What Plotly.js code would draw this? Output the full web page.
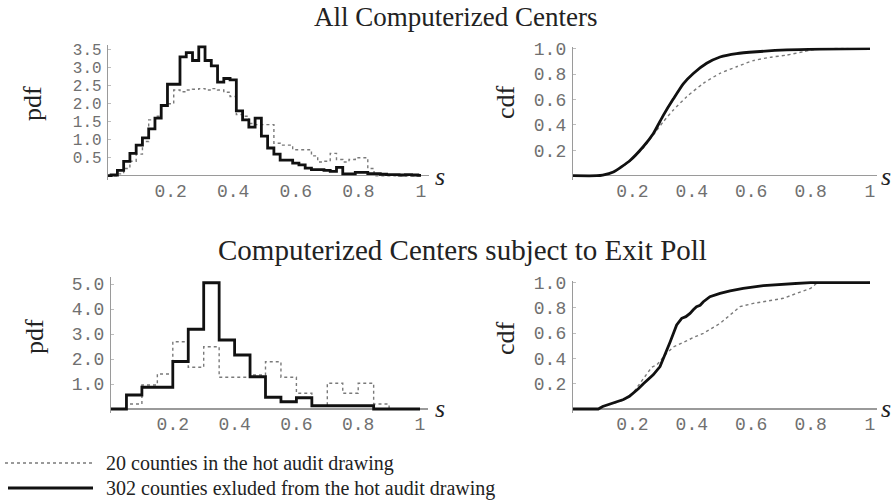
<!DOCTYPE html>
<html>
<head>
<meta charset="utf-8">
<script src="https://cdn.plot.ly/plotly-3.0.1.min.js"></script>
<style>
  html, body { margin: 0; padding: 0; background: #fff; }
  #chart { width: 891px; height: 502px; }
</style>
</head>
<body>
<div id="chart"></div>
<script>
// ---------------- DATA ----------------
// Top-left pdf histogram: first bin [0,0.01], then bins of width 0.02 centred on 0.02,0.04,...,1.00 (last clipped at 1.0)
const topBinWidth = 0.02;
const topPdfExcluded = [0,
  0.02, 0.15, 0.40, 0.62, 0.85, 1.05, 1.30, 1.60, 1.95, 2.54,
  2.54, 3.30, 3.42, 3.20, 3.58, 3.20, 3.05, 2.60, 2.70, 2.66,
  1.80, 1.55, 1.35, 1.60, 1.10, 0.77, 0.60, 0.43, 0.43, 0.35,
  0.30, 0.21, 0.17, 0.17, 0.15, 0.12, 0.23, 0.05, 0.05, 0.09,
  0.09, 0.06, 0.06, 0.04, 0.03, 0.03, 0.02, 0.03, 0.02, 0.01];
const topPdfHot = [0,
  0.00, 0.05, 0.20, 0.40, 0.60, 0.95, 1.55, 1.65, 1.95, 2.00,
  2.38, 2.33, 2.38, 2.40, 2.42, 2.38, 2.42, 2.38, 2.32, 2.20,
  1.70, 1.65, 1.45, 1.42, 1.42, 1.42, 0.90, 0.85, 0.85, 0.72,
  0.72, 0.72, 0.55, 0.38, 0.40, 0.62, 0.45, 0.38, 0.45, 0.50,
  0.50, 0.20, 0.00, 0.00, 0.00, 0.00, 0.00, 0.00, 0.00, 0.00];

// Bottom-left pdf histogram: bins of width 0.05 from 0 to 1
const botBinWidth = 0.05;
const botPdfExcluded = [0, 0.56, 0.87, 0.87, 1.90, 3.19, 5.05, 2.76, 2.16, 1.29,
                        0.47, 0.29, 0.45, 0.13, 0.13, 0.13, 0.13, 0, 0, 0];
const botPdfHot      = [0, 0.20, 0.96, 1.40, 2.69, 1.67, 2.49, 1.27, 1.27, 1.36,
                        1.89, 1.27, 0.63, 0.13, 1.03, 0.63, 1.03, 0.20, 0, 0];

// Top-right cdf
const topCdfExS = [0, 0.08, 0.10, 0.136, 0.192, 0.237, 0.27, 0.304, 0.338, 0.372, 0.405, 0.45, 0.495, 0.551, 0.618, 0.72, 0.83, 1.0];
const topCdfEx  = [0, 0, 0.005, 0.03, 0.12, 0.23, 0.33, 0.475, 0.605, 0.725, 0.805, 0.885, 0.935, 0.962, 0.976, 0.99, 0.996, 1.0];
const topCdfHotS = [0, 0.08, 0.10, 0.136, 0.192, 0.237, 0.27, 0.304, 0.338, 0.383, 0.439, 0.495, 0.551, 0.607, 0.663, 0.72, 0.775, 0.80, 0.85, 1.0];
const topCdfHot  = [0, 0, 0.005, 0.028, 0.115, 0.22, 0.32, 0.425, 0.517, 0.622, 0.727, 0.806, 0.858, 0.906, 0.932, 0.95, 0.976, 0.99, 1.0, 1.0];

// Bottom-right cdf
const botCdfExS = [0, 0.085, 0.10, 0.118, 0.136, 0.155, 0.17, 0.19, 0.203, 0.22, 0.237, 0.255, 0.27, 0.293, 0.31, 0.327, 0.349, 0.366, 0.38, 0.394, 0.405, 0.416, 0.428, 0.439, 0.461, 0.48, 0.495, 0.529, 0.573, 0.641, 0.72, 0.80, 1.0];
const botCdfEx  = [0, 0, 0.02, 0.035, 0.05, 0.06, 0.075, 0.1, 0.124, 0.16, 0.2, 0.235, 0.27, 0.335, 0.43, 0.53, 0.664, 0.717, 0.73, 0.756, 0.785, 0.809, 0.82, 0.848, 0.888, 0.905, 0.914, 0.933, 0.954, 0.975, 0.985, 1.0, 1.0];
const botCdfHotS = [0, 0.085, 0.10, 0.136, 0.17, 0.203, 0.225, 0.248, 0.265, 0.282, 0.315, 0.338, 0.36, 0.383, 0.41, 0.439, 0.47, 0.495, 0.529, 0.562, 0.607, 0.663, 0.708, 0.753, 0.80, 0.82, 1.0];
const botCdfHot  = [0, 0, 0.02, 0.045, 0.07, 0.13, 0.2, 0.27, 0.33, 0.348, 0.44, 0.49, 0.515, 0.545, 0.57, 0.598, 0.64, 0.677, 0.743, 0.809, 0.835, 0.854, 0.875, 0.914, 0.954, 0.993, 1.0];

// Tick labels
const sTickVals = [0.2, 0.4, 0.6, 0.8, 1];
const sTickText = ['0.2', '0.4', '0.6', '0.8', '1'];
const topPdfTickVals = [0.5, 1, 1.5, 2, 2.5, 3, 3.5];
const topPdfTickText = ['0.5', '1.0', '1.5', '2.0', '2.5', '3.0', '3.5'];
const botPdfTickVals = [1, 2, 3, 4, 5];
const botPdfTickText = ['1.0', '2.0', '3.0', '4.0', '5.0'];
const cdfTickVals = [0.2, 0.4, 0.6, 0.8, 1.0];
const cdfTickText = ['0.2', '0.4', '0.6', '0.8', '1.0'];

const titles = ['All Computerized Centers', 'Computerized Centers subject to Exit Poll'];
const legendLabels = ['20 counties in the hot audit drawing', '302 counties exluded from the hot audit drawing'];

// ---------------- BUILD ----------------
const W = 891, H = 502;
const fx = p => p / W;
const fy = p => 1 - p / H;

function topEdges() {
  const e = [0];
  for (let k = 0; k < 50; k++) e.push(Math.min(1, 0.01 + topBinWidth * k));
  e.push(1.0);
  return e;
}
function botEdges() {
  const e = [];
  for (let k = 0; k <= botPdfExcluded.length; k++) e.push(+(botBinWidth * k).toFixed(4));
  return e;
}
function stepY(vals) { return vals.concat([vals[vals.length - 1]]); }

const hotLine = {color: '#7a7a7a', width: 1.4, dash: 'dot'};
const exLine = {color: '#111', width: 2.8};

const te = topEdges(), be = botEdges();
const traces = [
  {x: te, y: stepY(topPdfHot), xaxis: 'x', yaxis: 'y', mode: 'lines', line: Object.assign({shape: 'hv'}, hotLine)},
  {x: te, y: stepY(topPdfExcluded), xaxis: 'x', yaxis: 'y', mode: 'lines', line: Object.assign({shape: 'hv'}, exLine)},
  {x: topCdfHotS, y: topCdfHot, xaxis: 'x2', yaxis: 'y2', mode: 'lines', line: Object.assign({shape: 'spline', smoothing: 0.6}, hotLine)},
  {x: topCdfExS, y: topCdfEx, xaxis: 'x2', yaxis: 'y2', mode: 'lines', line: Object.assign({shape: 'spline', smoothing: 0.6}, exLine)},
  {x: be, y: stepY(botPdfHot), xaxis: 'x3', yaxis: 'y3', mode: 'lines', line: Object.assign({shape: 'hv'}, hotLine)},
  {x: be, y: stepY(botPdfExcluded), xaxis: 'x3', yaxis: 'y3', mode: 'lines', line: Object.assign({shape: 'hv'}, exLine)},
  {x: botCdfHotS, y: botCdfHot, xaxis: 'x4', yaxis: 'y4', mode: 'lines', line: hotLine},
  {x: botCdfExS, y: botCdfEx, xaxis: 'x4', yaxis: 'y4', mode: 'lines', line: exLine}
];
traces.forEach(t => { t.showlegend = false; t.hoverinfo = 'skip'; });

const mono = 'Liberation Mono, Courier New, monospace';
const tickFont = {family: mono, size: 18, color: '#707070'};
const tickFontSmall = {family: mono, size: 16, color: '#707070'};
const axisColor = '#9a9a9a';

function xAx(x0, pxPerUnit, anchor) {
  return {
    domain: [fx(x0), fx(x0 + pxPerUnit * 1.025)], range: [0, 1.025], anchor: anchor,
    showline: false, showgrid: false, zeroline: false,
    tickmode: 'array', tickvals: sTickVals, ticktext: sTickText,
    ticks: '', tickfont: tickFont, ticklabelstandoff: -2, fixedrange: true
  };
}
function yAx(base, pxPerUnit, top, anchor, tv, tt, tf) {
  const lo = -0.03 * (top);
  return {
    domain: [fy(base - lo * pxPerUnit), fy(base - top * pxPerUnit)], range: [lo, top], anchor: anchor,
    showline: true, linecolor: axisColor, linewidth: 1.2, mirror: false,
    showgrid: false, zeroline: true, zerolinecolor: axisColor, zerolinewidth: 1.4,
    tickmode: 'array', tickvals: tv, ticktext: tt,
    ticks: 'inside', ticklen: 3, tickcolor: '#bdbdbd',
    tickfont: tf || tickFont, ticklabelstandoff: 2, fixedrange: true
  };
}

const serif = 'Liberation Serif, Times New Roman, serif';
const annotations = [
  {text: titles[0], x: fx(455), y: fy(0), yanchor: 'top', font: {family: serif, size: 27, color: '#222'}},
  {text: titles[1], x: fx(463), y: fy(250), font: {family: serif, size: 29, color: '#222'}},
  {text: 'pdf', x: fx(32), y: fy(104), textangle: -90, font: {family: serif, size: 26, color: '#222'}},
  {text: 'cdf', x: fx(505), y: fy(102), textangle: -90, font: {family: serif, size: 26, color: '#222'}},
  {text: 'pdf', x: fx(34), y: fy(337), textangle: -90, font: {family: serif, size: 26, color: '#222'}},
  {text: 'cdf', x: fx(505), y: fy(338), textangle: -90, font: {family: serif, size: 26, color: '#222'}},
  {text: '<i>s</i>', x: fx(440), y: fy(176), font: {family: serif, size: 26, color: '#222'}},
  {text: '<i>s</i>', x: fx(886), y: fy(176), font: {family: serif, size: 26, color: '#222'}},
  {text: '<i>s</i>', x: fx(440), y: fy(408), font: {family: serif, size: 26, color: '#222'}},
  {text: '<i>s</i>', x: fx(886), y: fy(408), font: {family: serif, size: 26, color: '#222'}},
  {text: legendLabels[0], x: fx(104), y: fy(463), xanchor: 'left', font: {family: serif, size: 20, color: '#222'}},
  {text: legendLabels[1], x: fx(104), y: fy(488), xanchor: 'left', font: {family: serif, size: 20, color: '#222'}}
].map(a => Object.assign({xref: 'paper', yref: 'paper', showarrow: false, xanchor: 'center', yanchor: 'middle'}, a));

const shapes = [
  {type: 'line', xref: 'paper', yref: 'paper', x0: fx(5), x1: fx(93), y0: fy(463), y1: fy(463), line: hotLine},
  {type: 'line', xref: 'paper', yref: 'paper', x0: fx(8), x1: fx(93), y0: fy(488), y1: fy(488), line: exLine}
];

const layout = {
  width: W, height: H,
  margin: {l: 0, r: 0, t: 0, b: 0},
  paper_bgcolor: '#fff', plot_bgcolor: '#fff',
  showlegend: false,
  xaxis: xAx(108, 313, 'y'),
  yaxis: yAx(175.7, 36, 3.63, 'x', topPdfTickVals, topPdfTickText, tickFontSmall),
  xaxis2: xAx(573, 297, 'y2'),
  yaxis2: yAx(175.7, 127, 1.01, 'x2', cdfTickVals, cdfTickText),
  xaxis3: xAx(111, 309, 'y3'),
  yaxis3: yAx(409, 25, 5.28, 'x3', botPdfTickVals, botPdfTickText),
  xaxis4: xAx(573, 297, 'y4'),
  yaxis4: yAx(409, 126.5, 1.01, 'x4', cdfTickVals, cdfTickText),
  annotations: annotations,
  shapes: shapes
};

Plotly.newPlot('chart', traces, layout, {staticPlot: true, displayModeBar: false});
</script>
</body>
</html>
